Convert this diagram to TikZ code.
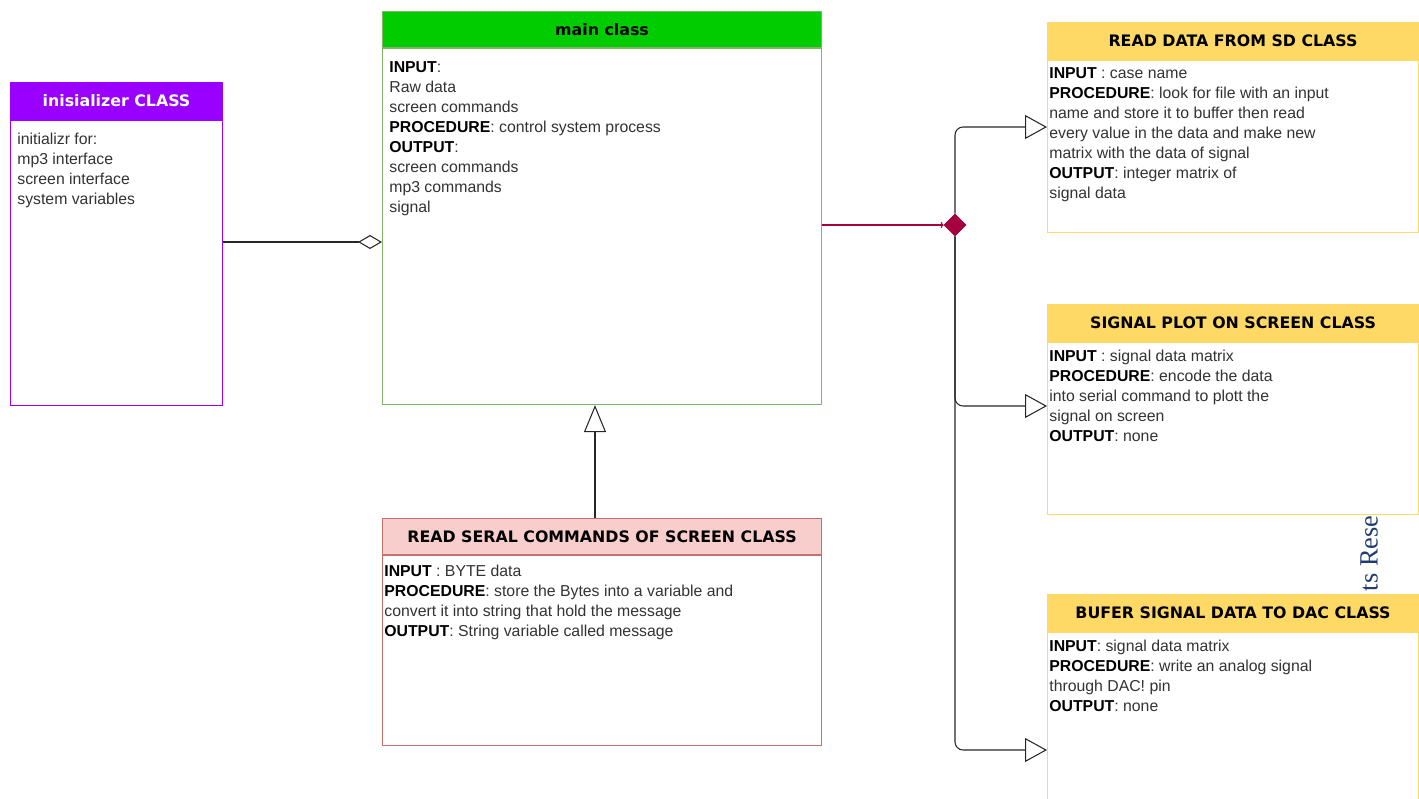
\documentclass[tikz,border=0pt]{standalone}
\usepackage{fontspec}
\setmainfont{Liberation Sans}
\newfontfamily\headfont{DejaVu Sans}
\newfontfamily\markfont{Liberation Serif}
\usetikzlibrary{arrows.meta,shapes.geometric}

\definecolor{initPurple}{HTML}{9900FF}
\definecolor{mainGreen}{HTML}{00CC00}
\definecolor{mainLine}{HTML}{82B366}
\definecolor{sdYellow}{HTML}{FFD966}
\definecolor{serHead}{HTML}{F8CECC}
\definecolor{serLine}{HTML}{C8706C}
\definecolor{hubRed}{HTML}{A50040}
\definecolor{bodyGray}{HTML}{333333}
\definecolor{markBlue}{HTML}{1F3B73}

\newlength\pxUnit
\setlength\pxUnit{0.02cm}
\newcommand\kw[1]{{\color{black}\bfseries #1}}
\newcommand\classBox[9]{
	\node[#7 head, minimum width=#4\pxUnit, minimum height=#5\pxUnit] (#1H) at (#2,#3) {#8};
	\node[#7 body, minimum width=#4\pxUnit, minimum height=#6\pxUnit, anchor=north] (#1) at (#1H.south) {};
	\node[body text, #7 text] (#1T) at (#1.north west) {#9};
}

\tikzset{
	class head/.style={anchor=north west, draw, inner sep=0pt, line width=0.6pt, text=black,
		font=\headfont\bfseries\fontsize{9}{11}\selectfont},
	class body/.style={draw, fill=white, inner sep=0pt, line width=0.6pt},
	body text/.style={anchor=north west, inner sep=0pt, align=left, text=bodyGray,
		font=\fontsize{9}{11.4}\selectfont},
	purple head/.style={class head, fill=initPurple, draw=initPurple, text=white},
	purple body/.style={class body, draw=initPurple},
	purple text/.style={xshift=7\pxUnit, yshift=-12.4\pxUnit},
	green head/.style={class head, fill=mainGreen, draw=mainLine},
	green body/.style={class body, draw=mainLine},
	green text/.style={xshift=7\pxUnit, yshift=-13.4\pxUnit},
	yellow head/.style={class head, fill=sdYellow, draw=sdYellow},
	yellow body/.style={class body, draw=sdYellow},
	yellow text/.style={xshift=2\pxUnit, yshift=-7.4\pxUnit},
	red head/.style={class head, fill=serHead, draw=serLine},
	red body/.style={class body, draw=serLine},
	red text/.style={xshift=2\pxUnit, yshift=-9.4\pxUnit},
	link/.style={draw=black!85, line width=0.6pt},
	aggregate/.style={link, -{Diamond[open, length=0.48cm, width=0.28cm]}},
	inherit/.style={link, -{Triangle[open, length=0.54cm, width=0.44cm]}},
	feed/.style={link, rounded corners=0.16cm, -{Triangle[open, length=0.44cm, width=0.48cm]}},
	hub/.style={diamond, fill=hubRed, draw=hubRed, inner sep=0pt,
		minimum width=0.44cm, minimum height=0.44cm},
	watermark/.style={rotate=90, inner sep=0pt, text=markBlue, font=\markfont\fontsize{15}{15}\selectfont}
}

\begin{document}
\begin{tikzpicture}[x=0.02cm, y=-0.02cm]
	\useasboundingbox (0,0) rectangle (1419,798);

	\node[watermark] (wm) at (1369,549) {ts Reser};

	\classBox{init}{10}{82}{212}{37}{285}{purple}{inisializer CLASS}{initializr for:\\mp3 interface\\screen interface\\system variables}
	\classBox{main}{382}{11}{439}{36}{356}{green}{main class}{\kw{INPUT}:\\Raw data\\screen commands\\\kw{PROCEDURE}: control system process\\\kw{OUTPUT}:\\screen commands\\mp3 commands\\signal}
	\classBox{sd}{1047}{22}{371}{37}{172}{yellow}{READ DATA FROM SD CLASS}{\kw{INPUT} : case name\\\kw{PROCEDURE}: look for file with an input\\name and store it to buffer then read\\every value in the data and make new\\matrix with the data of signal\\\kw{OUTPUT}: integer matrix of\\signal data}
	\classBox{plot}{1047}{304}{371}{37}{172}{yellow}{SIGNAL PLOT ON SCREEN CLASS}{\kw{INPUT} : signal data matrix\\\kw{PROCEDURE}: encode the data\\into serial command to plott the\\signal on screen\\\kw{OUTPUT}: none}
	\classBox{dac}{1047}{594}{371}{37}{190}{yellow}{BUFER SIGNAL DATA TO DAC CLASS}{\kw{INPUT}: signal data matrix\\\kw{PROCEDURE}: write an analog signal\\through DAC! pin\\\kw{OUTPUT}: none}
	\classBox{seral}{382}{518}{439}{36}{190}{red}{READ SERAL COMMANDS OF SCREEN CLASS}{\kw{INPUT} : BYTE data\\\kw{PROCEDURE}: store the Bytes into a variable and\\convert it into string that hold the message\\\kw{OUTPUT}: String variable called message}

	\node[hub] (hub) at (955,225) {};

	\draw[aggregate] (init.east |- 0,242) -- (main.west |- 0,242);
	\draw[link, draw=hubRed, -{To[length=0.06cm]}] (main.east |- hub.west) -- (hub.west);
	\draw[feed] (hub.north) |- (sd.west |- 0,127);
	\draw[feed] (hub.south) |- (plot.west |- 0,406);
	\draw[feed] (hub.south) |- (dac.west |- 0,750);
	\draw[inherit] (seralH.north -| 595,0) -- (main.south -| 595,0);
\end{tikzpicture}
\end{document}
